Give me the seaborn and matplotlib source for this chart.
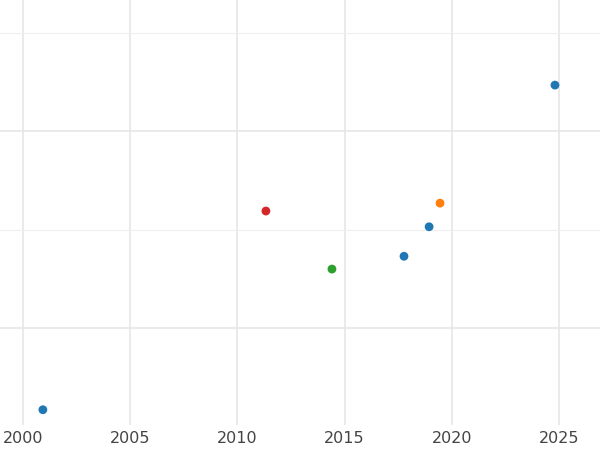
import matplotlib
matplotlib.use("Agg")
import matplotlib.pyplot as plt
import seaborn as sns
import pandas as pd

years = [2000.93, 2011.33, 2014.41, 2017.77, 2018.94, 2019.45, 2024.81]
values = [-0.83, 1.19, 0.60, 0.73, 1.03, 1.27, 2.47]
groups = ["a", "b", "c", "a", "a", "d", "a"]
palette = {"a": "#1f77b4", "b": "#d62728", "c": "#2ca02c", "d": "#ff7f0e"}

df = pd.DataFrame({"year": years, "value": values, "group": groups})
sns.set_style("white")
fig = plt.figure(figsize=(6, 4.5), dpi=100)
ax = fig.add_axes([0, 25/450, 1, 425/450])
sns.scatterplot(data=df, x="year", y="value", hue="group", palette=palette,
                s=40, edgecolor="none", legend=False, ax=ax, zorder=3)
ax.set_xlim(1998.93, 2026.91)
ax.set_ylim(-0.985, 3.335)
ax.set_xticks([2000, 2005, 2010, 2015, 2020, 2025])
ax.set_yticks([0, 2])
ax.set_yticks([1, 3], minor=True)
ax.set_xticks([2000, 2010, 2015, 2020], minor=False)
ax.set_xticks([2000, 2005, 2010, 2015, 2020, 2025])
ax.grid(True, which="major", color="#e6e6e6", linewidth=1.2)
ax.grid(True, which="minor", axis="y", color="#efefef", linewidth=0.8)
ax.tick_params(axis="y", labelleft=False, length=0, which="both")
ax.tick_params(axis="x", length=0, labelsize=11.5, labelcolor="#444444", pad=4)
ax.set_xlabel(""); ax.set_ylabel("")
for s in ax.spines.values():
    s.set_visible(False)
fig.savefig("out.png", dpi=100)
